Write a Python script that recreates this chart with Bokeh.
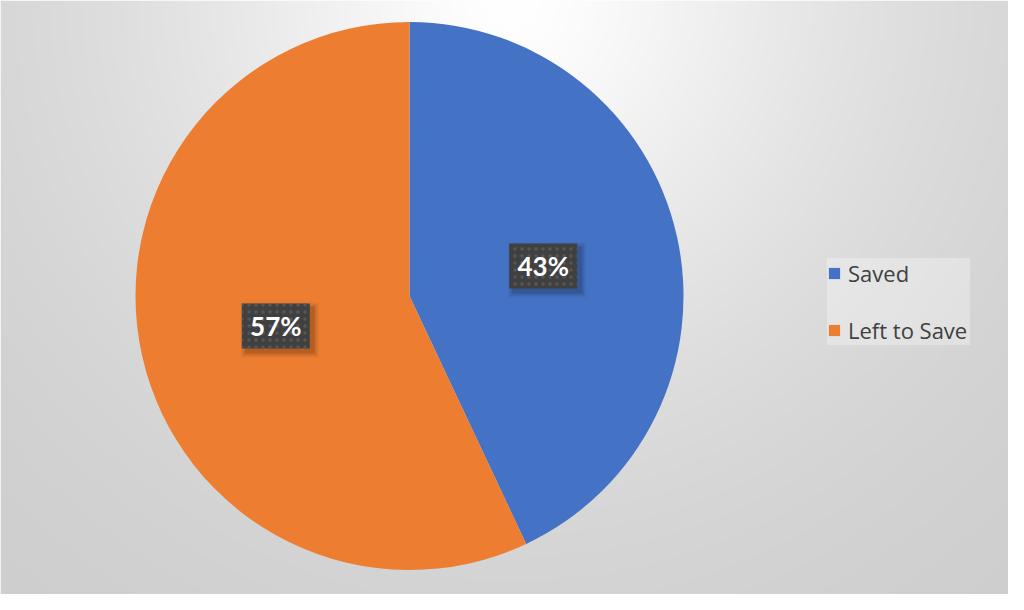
import numpy as np
from bokeh.plotting import figure
from bokeh.models import ColumnDataSource, Legend, LegendItem
from bokeh.core.properties import value
from bokeh.embed import file_html
from bokeh.resources import INLINE

# ---- data ----
categories = ["Saved", "Left to Save"]
amounts = [43, 57]
colors = ["#4472C4", "#ED7D31"]

W, H = 1008, 594
cx, cy, R = 409, 298.5, 274

total = float(sum(amounts))
fracs = [a / total for a in amounts]
starts, ends, mids = [], [], []
acc = 0.0
for f in fracs:
    s = np.pi / 2 - 2 * np.pi * acc
    e = np.pi / 2 - 2 * np.pi * (acc + f)
    starts.append(s)
    ends.append(e)
    mids.append((s + e) / 2)
    acc += f
labels = [f"{round(f * 100)}%" for f in fracs]
lx = [cx + 0.5 * R * np.cos(m) for m in mids]
ly = [cy + 0.5 * R * np.sin(m) for m in mids]

src = ColumnDataSource(dict(cat=categories, amt=amounts, color=colors,
                            start=starts, end=ends, lx=lx, ly=ly, label=labels))

p = figure(width=W, height=H, x_range=(0, W), y_range=(0, H),
           output_backend="svg", toolbar_location=None, min_border=0)
p.axis.visible = False
p.grid.visible = False
p.outline_line_color = None

# background radial gradient (style only); image row 0 is at the bottom
gw, gh = W // 2, H // 2
xs = np.linspace(0, W, gw)
ys = np.linspace(0, H, gh)
X, Y = np.meshgrid(xs, ys)
d = np.sqrt((X - 511) ** 2 + (H - Y) ** 2)
v = 203 + 52 * np.exp(-(d / 400.0) ** 1.5)
v = np.clip(v, 0, 255).astype(np.uint32)
img = (np.uint32(255) << 24) | (v << 16) | (v << 8) | v
p.image_rgba(image=[img.astype(np.uint32)], x=0, y=0, dw=W, dh=H)

wedges = p.wedge(x=cx, y=cy, radius=R, start_angle="start", end_angle="end",
                 direction="clock", fill_color="color", line_color=None, source=src)

# label boxes with soft shadow
sh = ColumnDataSource(dict(x=[x + 4 for x in lx], y=[y - 4 for y in ly]))
for k, a in [(10, 0.05), (6, 0.08), (2, 0.12)]:
    p.rect(x="x", y="y", width=68 + k, height=45 + k, width_units="screen",
           height_units="screen", source=sh, fill_color="black", fill_alpha=a,
           line_color=None)
p.rect(x="lx", y="ly", width=68, height=45, width_units="screen",
       height_units="screen", source=src, fill_color="#404040", line_color=None,
       hatch_pattern="dot", hatch_color="#565656", hatch_scale=7, hatch_weight=1)
p.text(x="lx", y="ly", text="label", source=src, text_align="center",
       text_baseline="middle", text_color="white", text_font=value("Lato"),
       text_font_style="bold", text_font_size="26px")

legend = Legend(items=[LegendItem(label=value(c), renderers=[wedges], index=i)
                       for i, c in enumerate(categories)],
                location=(827, 249), orientation="vertical", margin=0, padding=14,
                spacing=27, label_height=24, label_width=122, glyph_height=14,
                glyph_width=14, label_standoff=7, label_text_font="Open Sans",
                label_text_font_size="22px", label_text_color="#404040",
                background_fill_color="#ffffff", background_fill_alpha=0.3,
                border_line_color=None)
p.add_layout(legend, "center")

open("out.html", "w").write(file_html(p, INLINE))
